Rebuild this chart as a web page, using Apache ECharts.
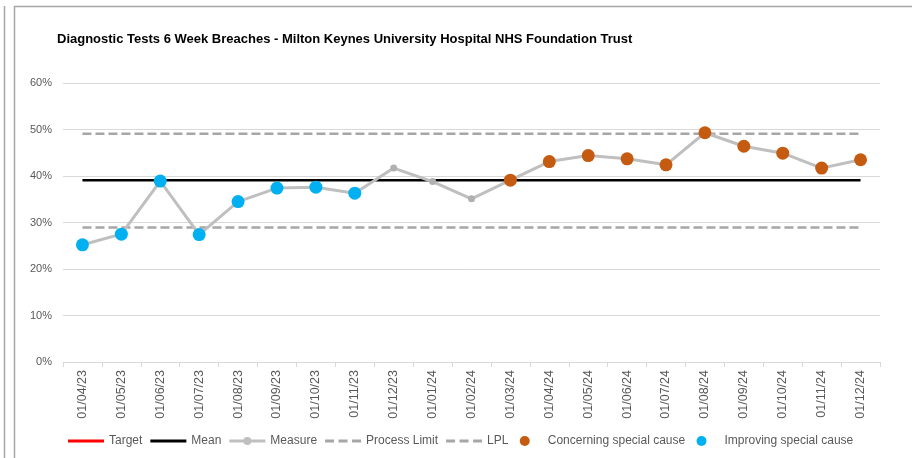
<!DOCTYPE html>
<html>
<head>
<meta charset="utf-8">
<script src="https://cdn.jsdelivr.net/npm/echarts@6/dist/echarts.min.js"></script>
<style>
  html, body { margin: 0; padding: 0; background: #fff; }
  #chart { width: 912px; height: 458px; }
</style>
</head>
<body>
<div id="chart"></div>
<script>
// months on the x axis
var months = ['01/04/23', '01/05/23', '01/06/23', '01/07/23', '01/08/23', '01/09/23', '01/10/23',
    '01/11/23', '01/12/23', '01/01/24', '01/02/24', '01/03/24', '01/04/24', '01/05/24',
    '01/06/24', '01/07/24', '01/08/24', '01/09/24', '01/10/24', '01/11/24', '01/12/24'];

// % of patients waiting over 6 weeks
var measure = [25.2, 27.5, 38.9, 27.4, 34.5, 37.4, 37.6, 36.3, 41.7, 38.8, 35.1,
    39.1, 43.1, 44.4, 43.7, 42.4, 49.3, 46.4, 44.9, 41.7, 43.5];

// special cause flags: 'C' concerning, 'I' improving, '' none
var flags = ['I', 'I', 'I', 'I', 'I', 'I', 'I', 'I', '', '', '',
    'C', 'C', 'C', 'C', 'C', 'C', 'C', 'C', 'C', 'C'];

var meanValue = 39.1;
var upperLimit = 49.1;
var lowerLimit = 28.9;
var yTicks = [0, 10, 20, 30, 40, 50, 60];

var meanLine = months.map(function () { return meanValue; });
var upperLine = months.map(function () { return upperLimit; });
var lowerLine = months.map(function () { return lowerLimit; });
var targetLine = months.map(function () { return null; });
var concerning = measure.map(function (v, i) { return flags[i] === 'C' ? v : null; });
var improving = measure.map(function (v, i) { return flags[i] === 'I' ? v : null; });

var chart = echarts.init(document.getElementById('chart'));
var textColor = '#595959';
var font = '"Liberation Sans", Arial, sans-serif';

// legend icons drawn as paths so they look like the excel ones
var solidIcon = 'path://M0,0h36v3h-36z';
var dashIcon = 'path://M0,0h9v3h-9zM13.5,0h9v3h-9zM27,0h9v3h-9z';
var measureIcon = 'path://M0,3h36v3h-36zM14,4.5a4,4 0 1,1 8,0a4,4 0 1,1 -8,0z';

var option = {
    animation: false,
    backgroundColor: '#fff',
    textStyle: { fontFamily: font },
    title: {
        text: 'Diagnostic Tests 6 Week Breaches - Milton Keynes University Hospital NHS Foundation Trust',
        left: 52,
        top: 28,
        textStyle: { fontSize: 13, fontWeight: 'bold', color: '#000', fontFamily: font }
    },
    graphic: [
        { type: 'line', shape: { x1: 4.5, y1: 6, x2: 4.5, y2: 458 }, style: { stroke: '#a6a6a6', lineWidth: 1.5 } },
        { type: 'rect', shape: { x: 14.5, y: 6.5, width: 910, height: 470 }, style: { fill: null, stroke: '#a6a6a6', lineWidth: 1.5 } }
    ],
    legend: {
        bottom: 6,
        left: 63,
        itemGap: 8,
        itemWidth: 36,
        itemHeight: 10,
        textStyle: {
            color: textColor, fontSize: 12, fontFamily: font,
            rich: {
                gapA: { width: 11, fontSize: 12 },
                gapB: { width: 14, fontSize: 12 }
            }
        },
        // extra room before the dot markers, as in the excel legend
        formatter: function (name) {
            if (name === 'LPL') return name + '{gapA| }';
            if (name === 'Concerning special cause') return name + '{gapB| }';
            return name;
        },
        data: [
            { name: 'Target', icon: solidIcon, itemStyle: { color: '#ff0000' } },
            { name: 'Mean', icon: solidIcon, itemStyle: { color: '#000' } },
            { name: 'Measure', icon: measureIcon, itemStyle: { color: '#bfbfbf' } },
            { name: 'Process Limit', icon: dashIcon, itemStyle: { color: '#a6a6a6' } },
            { name: 'LPL', icon: dashIcon, itemStyle: { color: '#a6a6a6' } },
            { name: 'Concerning special cause', icon: 'circle' },
            { name: 'Improving special cause', icon: 'circle' }
        ]
    },
    grid: { left: 63, right: 32, top: 83, bottom: 96 },
    xAxis: {
        type: 'category',
        data: months,
        boundaryGap: true,
        axisLine: { lineStyle: { color: '#d9d9d9', width: 1 } },
        axisTick: { show: true, length: 5, lineStyle: { color: '#d9d9d9' } },
        axisLabel: { rotate: 90, color: textColor, fontSize: 12.5, margin: 8, fontFamily: font },
        splitLine: { show: false }
    },
    yAxis: {
        type: 'value',
        min: yTicks[0],
        max: yTicks[yTicks.length - 1],
        interval: 10,
        axisLine: { show: false },
        axisTick: { show: false },
        axisLabel: { color: textColor, fontSize: 11, margin: 11, formatter: '{value}%', fontFamily: font },
        splitLine: { lineStyle: { color: '#d9d9d9', width: 1 } }
    },
    series: [
        {
            name: 'Target', type: 'line', data: targetLine,
            symbol: 'none', lineStyle: { color: '#ff0000', width: 2.5 }, itemStyle: { color: '#ff0000' }
        },
        {
            name: 'Mean', type: 'line', data: meanLine,
            symbol: 'none', lineStyle: { color: '#000', width: 2.5 }, itemStyle: { color: '#000' }, z: 3
        },
        {
            name: 'Measure', type: 'line', data: measure,
            symbol: 'circle', symbolSize: 7,
            lineStyle: { color: '#bfbfbf', width: 3 }, itemStyle: { color: '#b0b0b0' }, z: 4
        },
        {
            name: 'Process Limit', type: 'line', data: upperLine,
            symbol: 'none', lineStyle: { color: '#a6a6a6', width: 2.5, type: [9, 4] }, itemStyle: { color: '#a6a6a6' }, z: 2
        },
        {
            name: 'LPL', type: 'line', data: lowerLine,
            symbol: 'none', lineStyle: { color: '#a6a6a6', width: 2.5, type: [9, 4] }, itemStyle: { color: '#a6a6a6' }, z: 2
        },
        {
            name: 'Concerning special cause', type: 'scatter', data: concerning,
            symbol: 'circle', symbolSize: 13, itemStyle: { color: '#c55a11', opacity: 1 }, z: 5
        },
        {
            name: 'Improving special cause', type: 'scatter', data: improving,
            symbol: 'circle', symbolSize: 13, itemStyle: { color: '#00b0f0', opacity: 1 }, z: 5
        }
    ]
};

chart.setOption(option);
</script>
</body>
</html>
